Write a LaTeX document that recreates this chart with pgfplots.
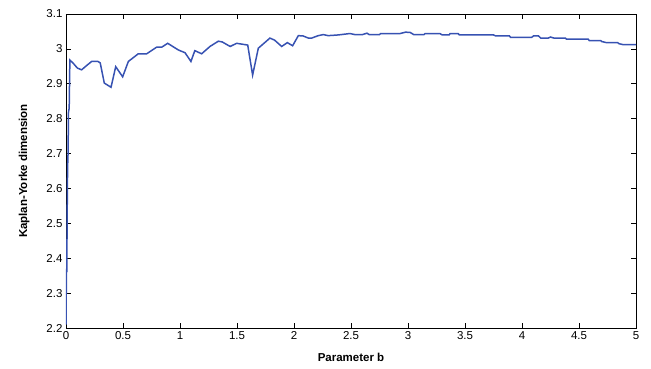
\documentclass[border=0pt]{standalone}
\usepackage{pgfplots}
\pgfplotsset{compat=1.18}
\usepackage{fontspec}
\setmainfont{Liberation Sans}
\definecolor{mblue}{RGB}{55,82,178}
\begin{document}
\begin{tikzpicture}
\begin{axis}[
  scale only axis,
  width=570pt, height=314pt,
  xmin=0, xmax=5, ymin=2.2, ymax=3.1,
  xtick={0,0.5,1,1.5,2,2.5,3,3.5,4,4.5,5},
  ytick={2.2,2.3,2.4,2.5,2.6,2.7,2.8,2.9,3,3.1},
  yticklabels={2.2,2.3,2.4,2.5,2.6,2.7,2.8,2.9,3,3.1},
  xticklabels={0,0.5,1,1.5,2,2.5,3,3.5,4,4.5,5},
  tick align=inside,
  major tick length=5pt,
  tick style={black, line width=0.6pt},
  axis line style={black, line width=0.7pt},
  ticklabel style={font=\fontsize{11.5}{13}\selectfont},
  /pgf/number format/assume math mode=true,
  xlabel={\bfseries Parameter b},
  ylabel={\bfseries Kaplan-Yorke dimension},
  label style={font=\fontsize{11.5}{13}\selectfont},
  xlabel style={yshift=-7pt},
  ylabel style={yshift=10pt},
]
\addplot[mblue, line width=1.5pt] coordinates {
(0.0,2.21) (0.004,2.37) (0.007,2.36) (0.010,2.52) (0.014,2.66) (0.018,2.70) (0.022,2.82) (0.028,2.83) (0.034,2.968)
(0.06,2.96) (0.10,2.945) (0.137,2.94) (0.18,2.952) (0.225,2.964) (0.28,2.964) (0.30,2.96)
(0.336,2.902) (0.395,2.89) (0.436,2.949) (0.497,2.92) (0.547,2.964) (0.634,2.986) (0.708,2.986)
(0.795,3.005) (0.84,3.005) (0.892,3.016) (0.985,2.997) (1.044,2.989) (1.096,2.964) (1.13,2.995)
(1.19,2.986) (1.263,3.007) (1.336,3.022) (1.37,3.02) (1.44,3.007) (1.497,3.016) (1.594,3.011)
(1.637,2.925) (1.687,3.002) (1.789,3.031) (1.83,3.025) (1.892,3.007) (1.942,3.018) (1.988,3.009)
(2.038,3.038) (2.08,3.037) (2.126,3.031) (2.155,3.031) (2.213,3.038) (2.257,3.041) (2.30,3.038)
(2.389,3.04) (2.49,3.044) (2.535,3.041) (2.60,3.041) (2.64,3.045) (2.66,3.041) (2.75,3.041)
(2.76,3.044) (2.93,3.044) (2.98,3.048) (3.02,3.047) (3.05,3.041) (3.14,3.041) (3.15,3.044)
(3.28,3.044) (3.30,3.04) (3.36,3.04) (3.37,3.044) (3.44,3.044) (3.45,3.04) (3.75,3.04)
(3.77,3.037) (3.89,3.037) (3.90,3.033) (4.085,3.033) (4.10,3.037) (4.145,3.037) (4.164,3.031)
(4.23,3.031) (4.25,3.034) (4.28,3.031) (4.38,3.031) (4.39,3.028) (4.58,3.028) (4.59,3.024)
(4.69,3.024) (4.70,3.021) (4.74,3.018) (4.84,3.018) (4.85,3.015) (4.89,3.012) (5.0,3.012)
};
\end{axis}
\pgfresetboundingbox
\useasboundingbox (-66pt,-41pt) rectangle (585pt,328pt);
\end{tikzpicture}
\end{document}
